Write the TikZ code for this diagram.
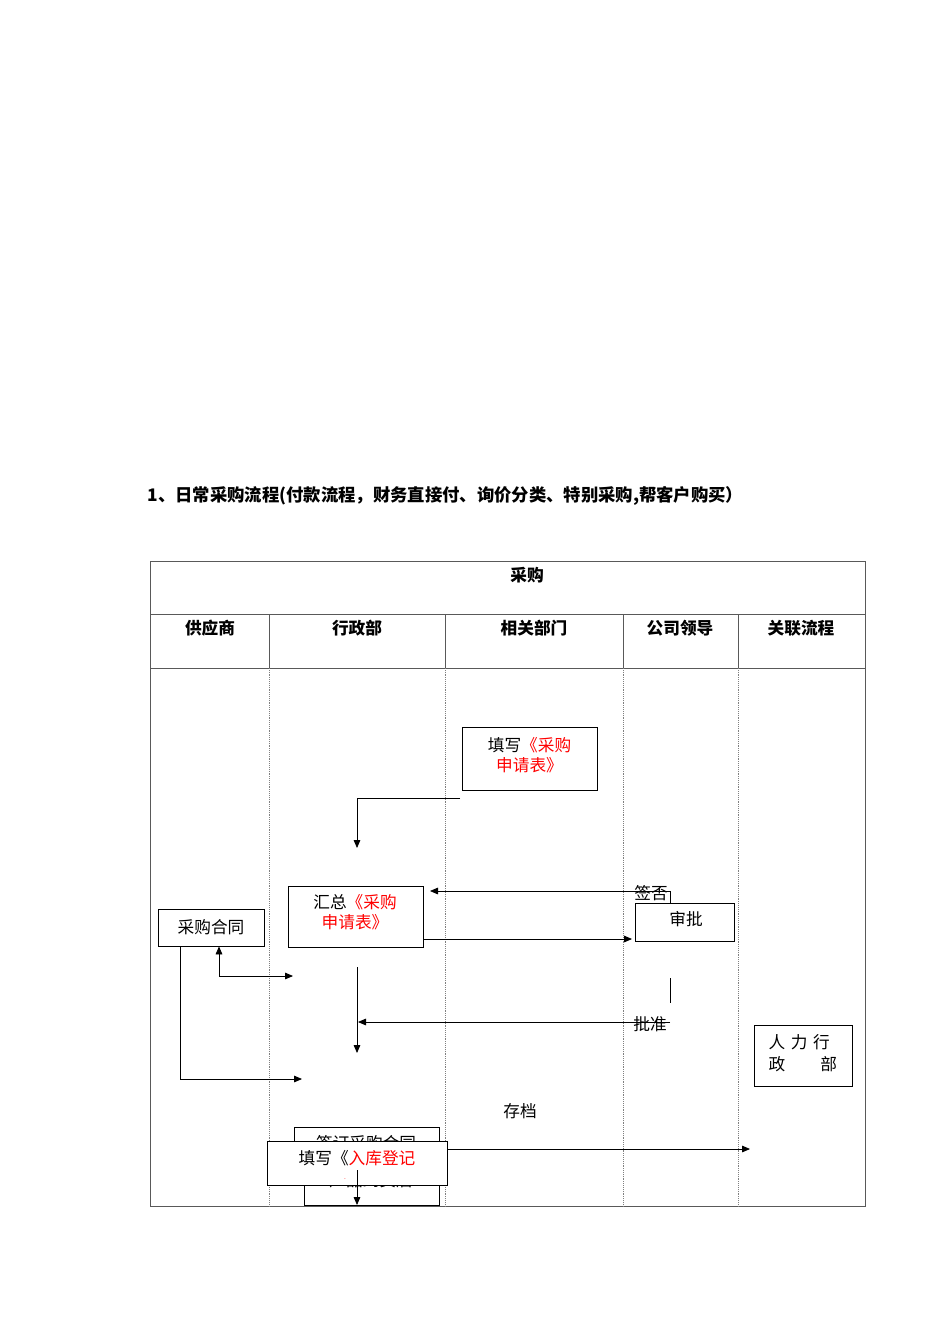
\documentclass[tikz,border=0pt]{standalone}
\usepackage{fontspec}
\setmainfont{Noto Sans CJK SC}
\usetikzlibrary{arrows.meta}
\begin{document}
\begin{tikzpicture}[x=0.75pt,y=-0.75pt,
  box/.style={draw,semithick,fill=white,inner sep=0pt},
  txt/.style={font=\fontsize{12.5}{15}\selectfont,align=center},
  hd/.style={font=\fontsize{12.5}{15}\selectfont\bfseries},
  arr/.style={-{Triangle[length=6pt,width=5pt]},semithick},
  ln/.style={semithick}]
\useasboundingbox (0,0) rectangle (950,1344);
\node[font=\fontsize{13}{15}\selectfont\bfseries,anchor=west] (title) at (143,496) {1、日常采购流程(付款流程，财务直接付、询价分类、特别采购,帮客户购买）};
% table
\draw[gray!70!black] (150,561) rectangle (865,1206);
\draw[gray!70!black] (150,614) -- (865,614);
\draw[gray!70!black] (150,668) -- (865,668);
\foreach \x in {269,445,623,738} {
  \draw[gray!70!black] (\x,614) -- (\x,668);
  \draw[gray,densely dotted] (\x,668) -- (\x,1206);
}
\node[hd] (h0) at (527,575) {采购};
\node[hd] (h1) at (210,628) {供应商};
\node[hd] (h2) at (357,628) {行政部};
\node[hd] (h3) at (534,628) {相关部门};
\node[hd] (h4) at (680,628) {公司领导};
\node[hd] (h5) at (801,628) {关联流程};
% boxes
\node[box,minimum width={0.75*135},minimum height={0.75*63}] (fill) at (529.5,758.5) {};
\node[txt] (filltxt) at (529.5,755) {填写\textcolor{red}{《采购}\\\textcolor{red}{申请表》}};
\node[box,minimum width={0.75*135},minimum height={0.75*61}] (sum) at (355.5,916.5) {};
\node[txt] (sumtxt) at (355,912) {汇总\textcolor{red}{《采购}\\\textcolor{red}{申请表》}};
\node[box,minimum width={0.75*106},minimum height={0.75*37},txt] (contract) at (211,927.5) {采购合同};
\node[box,minimum width={0.75*99},minimum height={0.75*38}] (appr) at (684.5,922) {};
\node[txt] (apprtxt) at (686,919) {审批};
\node[box,minimum width={0.75*98},minimum height={0.75*61}] (hr) at (803,1055.5) {};
\node[txt,anchor=north west] (hrtxt) at (764,1030) {人\,\,力\,\,行};
\node[txt,anchor=north west] (hrtxt2) at (764,1052) {政\hspace{2.1em}部};
\node[txt] (archive) at (520,1111) {存档};
\node[box,minimum width={0.75*145},minimum height={0.75*33}] (sign) at (366.5,1143.5) {};
\node[txt] (signtxt) at (366,1143) {签订采购合同};
\node[box,minimum width={0.75*135},minimum height={0.75*45}] (arrive) at (371.5,1182.5) {};
\node[txt] (arrivetxt) at (371,1180) {产品到货后};
\node[box,minimum width={0.75*180},minimum height={0.75*44}] (store) at (357,1163) {};
\node[txt] (storetxt) at (357,1158) {填写《\textcolor{red}{入库登记}};
\node[font=\tiny,text=red] (dot) at (345,1179) {.};
% coordinates
\coordinate (a1) at (460,798); \coordinate (a2) at (357,798); \coordinate (a3) at (357,848);
\coordinate (q1) at (670,891); \coordinate (q2) at (430,891);
\coordinate (r1) at (632,939);
\coordinate (t1) at (670,978); \coordinate (t2) at (670,1003);
\coordinate (p1) at (670,1022); \coordinate (p2) at (358,1022);
\coordinate (v1) at (357,967); \coordinate (v2) at (357,1053);
\coordinate (d0) at (219,976); \coordinate (d1) at (293,976);
\coordinate (e0) at (180,1079); \coordinate (e1) at (302,1079);
\coordinate (g1) at (750,1149);
\coordinate (b1) at (357,1170); \coordinate (b2) at (357,1205);
\draw[ln] (a1) -- (a2);
\draw[arr] (a2) -- (a3);
\draw[arr] (q1) -- (q2);
\draw[ln] (q1) -- (appr.north -| q1);
\node[txt] (qlabel) at (651,893) {签否};
\draw[arr] (sum.east |- r1) -- (r1);
\draw[ln] (t1) -- (t2);
\draw[arr] (p1) -- (p2);
\node[txt] (plabel) at (650,1024) {批准};
\draw[arr] (v1) -- (v2);
\draw[arr] (d0) -- (contract.south -| d0);
\draw[arr] (d0) -- (d1);
\draw[ln] (contract.south -| e0) -- (e0);
\draw[arr] (e0) -- (e1);
\draw[arr] (store.east |- g1) -- (g1);
\draw[arr] (b1) -- (b2);
\end{tikzpicture}
\end{document}
